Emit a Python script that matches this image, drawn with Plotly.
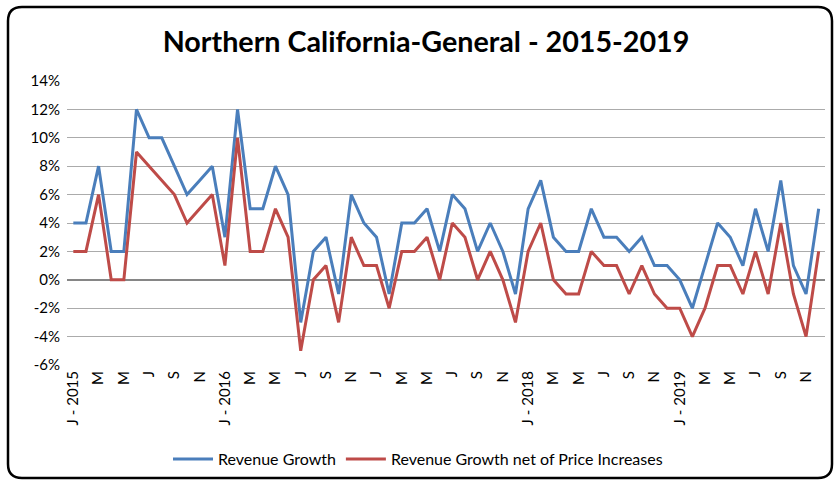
import plotly.graph_objects as go

months = list(range(60))
revenue_growth = [4, 4, 8, 2, 2, 12, 10, 10, 8, 6, 7, 8,
                  3, 12, 5, 5, 8, 6, -3, 2, 3, -1, 6, 4,
                  3, -1, 4, 4, 5, 2, 6, 5, 2, 4, 2, -1,
                  5, 7, 3, 2, 2, 5, 3, 3, 2, 3, 1, 1,
                  0, -2, 1, 4, 3, 1, 5, 2, 7, 1, -1, 5]
revenue_net = [2, 2, 6, 0, 0, 9, 8, 7, 6, 4, 5, 6,
               1, 10, 2, 2, 5, 3, -5, 0, 1, -3, 3, 1,
               1, -2, 2, 2, 3, 0, 4, 3, 0, 2, 0, -3,
               2, 4, 0, -1, -1, 2, 1, 1, -1, 1, -1, -2,
               -2, -4, -2, 1, 1, -1, 2, -1, 4, -1, -4, 2]
tick_idx = list(range(0, 60, 2))
tick_text = ["J - 2015", "M", "M", "J", "S", "N",
             "J - 2016", "M", "M", "J", "S", "N",
             "J", "M", "M", "J", "S", "N",
             "J - 2018", "M", "M", "J", "S", "N",
             "J - 2019", "M", "M", "J", "S", "N"]
y_ticks = list(range(-6, 16, 2))

FONT = "Lato, Carlito, Calibri, sans-serif"
W, H = 835, 481
L, R, T, B = 67, 10, 81, 116
pw, ph = W - L - R, H - T - B

fig = go.Figure()
fig.add_trace(go.Scatter(x=months, y=revenue_growth, mode="lines", name="Revenue Growth",
                         line=dict(color="#4a7ebb", width=3)))
fig.add_trace(go.Scatter(x=months, y=revenue_net, mode="lines",
                         name="Revenue Growth net of Price Increases",
                         line=dict(color="#be4b48", width=3)))

# rounded border in paper coords
def px(xp):
    return (xp - L) / pw
def py(yp):
    return (H - B - yp) / ph
x0, x1, y0, y1, r = 8, 832, 7, 478, 14
path = (f"M {px(x0+r)},{py(y0)} L {px(x1-r)},{py(y0)} Q {px(x1)},{py(y0)} {px(x1)},{py(y0+r)} "
        f"L {px(x1)},{py(y1-r)} Q {px(x1)},{py(y1)} {px(x1-r)},{py(y1)} "
        f"L {px(x0+r)},{py(y1)} Q {px(x0)},{py(y1)} {px(x0)},{py(y1-r)} "
        f"L {px(x0)},{py(y0+r)} Q {px(x0)},{py(y0)} {px(x0+r)},{py(y0)} Z")
fig.add_shape(type="path", path=path, xref="paper", yref="paper",
              line=dict(color="black", width=2.5), layer="above")

fig.update_layout(
    width=W, height=H,
    margin=dict(l=L, r=R, t=T, b=B, autoexpand=False),
    paper_bgcolor="white", plot_bgcolor="white",
    font=dict(family=FONT, size=15, color="black"),
    title=dict(text="<b>Northern California-General - 2015-2019</b>",
               x=(426) / W, xanchor="center", y=1 - 42 / H, yanchor="middle",
               font=dict(family=FONT, size=28.7, color="black")),
    showlegend=True,
    legend=dict(orientation="h", x=(418 - L) / pw, xanchor="center", y=-(459 - (H - B)) / ph,
                yanchor="middle", font=dict(family=FONT, size=16),
                itemwidth=40, tracegroupgap=0),
    xaxis=dict(range=[-0.5, 59.5], tickmode="array", tickvals=tick_idx, ticktext=tick_text,
               tickangle=-90, showgrid=False, zeroline=False, showline=False,
               ticks="", tickfont=dict(family=FONT, size=15), ticklabelstandoff=2),
    yaxis=dict(range=[-6, 14], tickmode="array", tickvals=y_ticks,
               ticktext=[f"{v}%" for v in y_ticks],
               showgrid=True, gridcolor="#ababab", gridwidth=1,
               zeroline=True, zerolinecolor="#868686", zerolinewidth=1.5,
               showline=False, ticks="", tickfont=dict(family=FONT, size=15),
               ticklabelstandoff=6),
)
fig.write_html("out.html", config={"displayModeBar": False},
               post_script="document.body.style.margin='0';document.body.style.overflow='hidden';")
